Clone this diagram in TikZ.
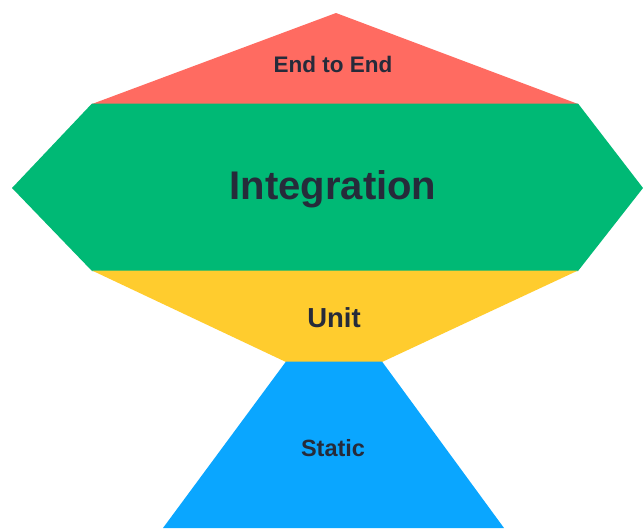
\documentclass[tikz,border=0pt]{standalone}
\usepackage{fontspec}
\setmainfont{Liberation Sans}
\definecolor{cred}{HTML}{FF6B61}
\definecolor{cgreen}{HTML}{00B975}
\definecolor{cyellow}{HTML}{FFCC2E}
\definecolor{cblue}{HTML}{0AA6FF}
\definecolor{ctext}{HTML}{262B3A}
\begin{document}
\begin{tikzpicture}[x=1pt,y=-1pt,
  lbl/.style={text=ctext,font=\bfseries,inner sep=0pt,anchor=base},
  layer/.style={draw=none}]
\useasboundingbox (0,0) rectangle (643,528);
\fill[white] (0,0) rectangle (643,528);
% layers
\fill[layer,cred] (336,13) -- (578,104) -- (92,104) -- cycle;
\fill[layer,cgreen] (92,103.5) -- (578,103.5) -- (643,188) -- (578,271) -- (92,271) -- (12,188) -- cycle;
\fill[layer,cyellow] (92,270.5) -- (578,270.5) -- (382,362) -- (286,362) -- cycle;
\fill[layer,cblue] (286,361.5) -- (382,361.5) -- (504,528) -- (163,528) -- cycle;
% labels
\node[lbl,font=\bfseries\fontsize{22.5}{26}\selectfont] (e2e) at (333,72) {End to End};
\node[lbl,font=\bfseries\fontsize{40}{44}\selectfont] (integ) at (333,199) {Integration};
\node[lbl,font=\bfseries\fontsize{27.5}{32}\selectfont] (unit) at (334,327) {Unit};
\node[lbl,font=\bfseries\fontsize{23.5}{27}\selectfont] (static) at (333,456) {Static};
\end{tikzpicture}
\end{document}
